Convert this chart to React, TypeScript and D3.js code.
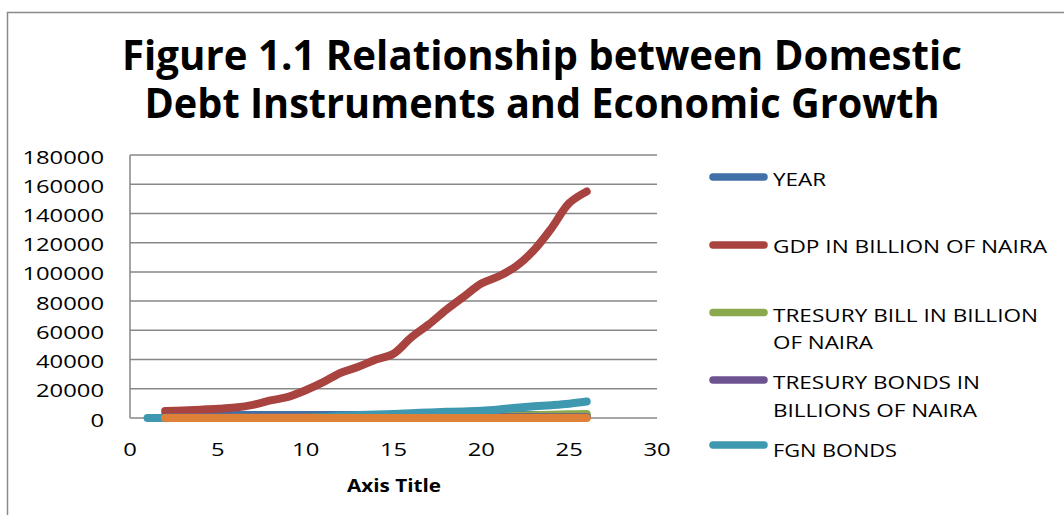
import React from "react";
import * as d3 from "d3";

const xs = [2, 3, 4, 5, 6, 7, 8, 9, 10, 11, 12, 13, 14, 15, 16, 17, 18, 19, 20, 21, 22, 23, 24, 25, 26];
const yearValues = [1991, 1992, 1993, 1994, 1995, 1996, 1997, 1998, 1999, 2000, 2001, 2002, 2003, 2004, 2005, 2006, 2007, 2008, 2009, 2010, 2011, 2012, 2013, 2014, 2015];
const gdpValues = [4800, 5200, 5700, 6300, 7200, 9000, 12000, 14500, 19000, 24500, 31000, 35000, 40000, 44000, 55000, 64000, 74000, 83000, 92000, 97000, 104000, 115000, 130000, 147000, 155000];
const tbillValues = [120, 150, 180, 210, 260, 300, 350, 400, 450, 500, 600, 650, 700, 750, 800, 850, 900, 1000, 1200, 1400, 1600, 1900, 2200, 2500, 2700];
const tbondValues = [300, 310, 320, 330, 340, 350, 360, 370, 380, 390, 400, 410, 420, 430, 440, 450, 460, 470, 480, 490, 500, 510, 520, 530, 540];
const fgnXs = [1, 2, 3, 4, 5, 6, 7, 8, 9, 10, 11, 12, 13, 14, 15, 16, 17, 18, 19, 20, 21, 22, 23, 24, 25, 26];
const fgnValues = [0, 0, 0, 0, 0, 0, 0, 0, 0, 0, 600, 1500, 2000, 2400, 2800, 3300, 3800, 4200, 4500, 4900, 5800, 7000, 8000, 8800, 9800, 11300];
const growthValues = [4.8, 2.9, 2.2, 0.1, 2.5, 4.3, 2.7, 2.5, 0.5, 5.4, 3.1, 4.6, 9.6, 6.6, 6.5, 6.0, 6.5, 6.0, 7.0, 8.0, 5.3, 4.2, 5.5, 6.2, 2.8];

const yTicks = [0, 20000, 40000, 60000, 80000, 100000, 120000, 140000, 160000, 180000];
const xTicks = [0, 5, 10, 15, 20, 25, 30];

const titleLines = ["Figure 1.1 Relationship between Domestic", "Debt Instruments and Economic Growth"];
const xAxisTitle = "Axis Title";

const seriesNames = ["YEAR", "GDP IN BILLION OF NAIRA", "TRESURY BILL IN BILLION OF NAIRA", "TRESURY BONDS IN BILLIONS OF NAIRA", "FGN BONDS"];
const seriesColors = ["#4170A8", "#A8433F", "#8BAA4E", "#6D5491", "#3E98B0", "#DE8038"];

export default function App() {
  const x = d3.scaleLinear().domain([0, 30]).range([130, 657]);
  const y = d3.scaleLinear().domain([0, 180000]).range([418, 155]);

  const line = d3
    .line<[number, number]>()
    .x((d) => x(d[0]))
    .y((d) => y(d[1]))
    .curve(d3.curveCatmullRom);

  const zip = (a: number[], b: number[]) => a.map((v, i) => [v, b[i]] as [number, number]);

  const series = [
    zip(xs, yearValues),
    zip(xs, gdpValues),
    zip(xs, tbillValues),
    zip(xs, tbondValues),
    zip(fgnXs, fgnValues),
    zip(xs, growthValues),
  ];

  const legendItems = [
    { lineY: 177, lines: [{ t: "YEAR", b: 185.5, w: 53 }] },
    { lineY: 245, lines: [{ t: "GDP IN BILLION OF NAIRA", b: 253, w: 274 }] },
    {
      lineY: 312.5,
      lines: [
        { t: "TRESURY BILL IN BILLION", b: 321.5, w: 265 },
        { t: "OF NAIRA", b: 349, w: 100 },
      ],
    },
    {
      lineY: 380,
      lines: [
        { t: "TRESURY BONDS IN", b: 388.5, w: 207 },
        { t: "BILLIONS OF NAIRA", b: 416.5, w: 204 },
      ],
    },
    { lineY: 445, lines: [{ t: "FGN BONDS", b: 456.5, w: 124 }] },
  ];

  const font = "'Open Sans', 'DejaVu Sans', sans-serif";
  const grid = "#878787";

  return (
    <svg
      width={1064}
      height={515}
      style={{ position: "absolute", left: 0, top: 0, background: "#fff" }}
    >
      <rect x={0} y={0} width={1064} height={515} fill="#fff" />
      <path d="M7.5,515 V12.5 H1064" fill="none" stroke="#8a8a8a" strokeWidth={1.5} />

      {titleLines.map((t, i) => (
        <text
          key={t}
          x={542}
          y={70 + i * 48}
          textAnchor="middle"
          fontFamily={font}
          fontWeight="bold"
          fontSize={42}
          textLength={i === 0 ? 840 : 795}
          lengthAdjust="spacingAndGlyphs"
          fill="#000"
        >
          {t}
        </text>
      ))}

      {yTicks.map((v) => (
        <line key={"g" + v} x1={x(0)} x2={x(30)} y1={y(v)} y2={y(v)} stroke={grid} strokeWidth={1.5} />
      ))}
      <line x1={x(0)} x2={x(0)} y1={y(180000)} y2={y(0)} stroke={grid} strokeWidth={1.5} />

      {yTicks.map((v) => {
        const s = String(v);
        return (
          <text
            key={"yl" + v}
            x={104}
            y={y(v) + 8.5}
            textAnchor="end"
            fontFamily={font}
            fontSize={19}
            textLength={s.length * 13.6}
            lengthAdjust="spacingAndGlyphs"
            fill="#000"
          >
            {s}
          </text>
        );
      })}

      {xTicks.map((v) => {
        const s = String(v);
        return (
          <text
            key={"xl" + v}
            x={x(v)}
            y={456}
            textAnchor="middle"
            fontFamily={font}
            fontSize={19}
            textLength={s.length * 13.6}
            lengthAdjust="spacingAndGlyphs"
            fill="#000"
          >
            {s}
          </text>
        );
      })}

      <text
        x={394}
        y={492}
        textAnchor="middle"
        fontFamily={font}
        fontWeight="bold"
        fontSize={17}
        textLength={94}
        lengthAdjust="spacingAndGlyphs"
        fill="#000"
      >
        {xAxisTitle}
      </text>

      {series.map((pts, i) => (
        <path
          key={"s" + i}
          d={line(pts) || ""}
          fill="none"
          stroke={seriesColors[i]}
          strokeWidth={8}
          strokeLinecap="round"
          strokeLinejoin="round"
        />
      ))}

      {legendItems.map((it, i) => (
        <g key={"lg" + i}>
          <line
            x1={713}
            x2={764}
            y1={it.lineY}
            y2={it.lineY}
            stroke={seriesColors[i]}
            strokeWidth={7.5}
            strokeLinecap="round"
          />
          {it.lines.map((l) => (
            <text
              key={l.t}
              x={773}
              y={l.b}
              fontFamily={font}
              fontSize={18.5}
              textLength={l.w}
              lengthAdjust="spacingAndGlyphs"
              fill="#000"
            >
              {l.t}
            </text>
          ))}
        </g>
      ))}
      <title>{seriesNames.join(", ")}</title>
    </svg>
  );
}
